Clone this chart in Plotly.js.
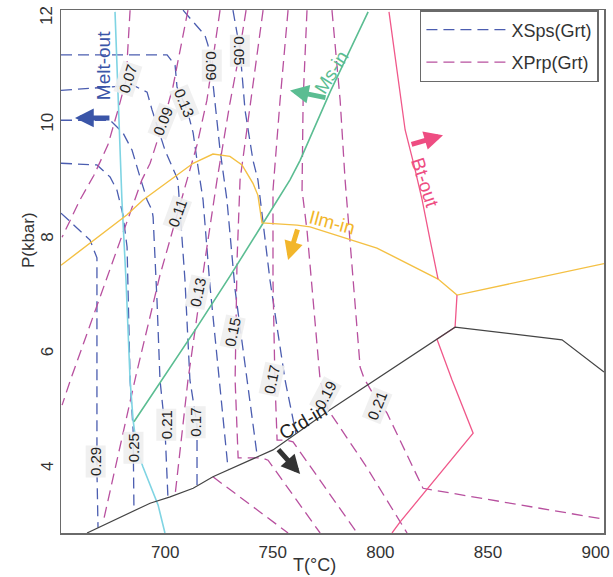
<!DOCTYPE html>
<html><head><meta charset="utf-8">
<script src="https://cdn.plot.ly/plotly-3.0.1.min.js"></script>
<style>html,body{margin:0;padding:0;background:#fff}#chart{width:613px;height:577px}</style>
</head><body><div id="chart"></div>
<script>
// ---- XSps(Grt) isopleths (T in °C, P in kbar) ----
const sps029_T = [651.6, 665.1, 668.3, 668.3, 668.8];
const sps029_P = [8.46, 7.99, 7.68, 3.98, 2.97];
const sps025_T = [651.6, 668.3, 674.4, 677.6, 680.4, 682.3, 683.7, 685.1, 685.5];
const sps025_P = [9.33, 9.30, 9.09, 8.86, 8.43, 7.87, 5.55, 4.68, 3.28];
const sps021_T = [651.6, 674.4, 680.4, 684.6, 688.3, 691.6, 693.9, 694.4, 696.2, 697.6, 699.9, 701.3];
const sps021_P = [10.08, 10.08, 9.86, 9.56, 9.09, 8.69, 8.51, 8.39, 6.94, 5.55, 4.71, 3.49];
const sps017_T = [651.6, 685.1, 691.6, 693.9, 699.9, 705.9, 709.2, 711.5, 714.8, 714.8];
const sps017_P = [10.60, 10.69, 10.57, 10.26, 9.56, 9.04, 7.29, 5.55, 4.76, 3.68];
const sps013_T = [651.6, 700.9, 704.6, 705.5, 710.2, 713.0, 714.8, 717.6, 720.8, 724.6, 729.2];
const sps013_P = [11.22, 11.22, 11.04, 10.66, 10.26, 9.86, 9.38, 8.69, 7.20, 5.72, 4.01];
const sps009_T = [708.3, 718.5, 719.9, 721.8, 725.5, 728.7, 732.5, 738.0, 742.7];
const sps009_P = [12.00, 11.56, 11.39, 10.87, 9.56, 8.69, 7.12, 5.55, 4.24];
const sps005_T = [731.5, 734.8, 737.1, 740.8, 743.1, 748.7, 755.7, 758.9, 760.8];
const sps005_P = [12.00, 11.30, 10.26, 9.38, 9.04, 7.29, 5.55, 4.97, 4.61];

// ---- XPrp(Grt) isopleths ----
const prp007_T = [683.7, 682.7, 681.8, 678.1, 673.4, 666.9, 660.4, 652.1];
const prp007_P = [12.00, 11.30, 10.78, 10.26, 9.65, 9.12, 8.69, 8.04];
const prp009_T = [710.6, 706.9, 703.6, 699.0, 693.0, 689.2, 672.5, 656.0, 652.1];
const prp009_P = [12.00, 11.30, 10.66, 10.03, 9.33, 9.04, 7.29, 5.55, 5.11];
const prp011_T = [725.5, 722.2, 719.4, 714.8, 710.2, 705.5, 697.6, 686.5, 679.0, 671.6];
const prp011_P = [12.00, 11.13, 10.43, 9.65, 9.04, 8.46, 7.38, 5.64, 4.41, 3.14];
const prp013_T = [737.6, 733.9, 730.1, 726.4, 724.1, 718.5, 710.6, 704.6, null, 722.2, 744.1, 757.1];
const prp013_P = [12.00, 11.13, 10.38, 9.56, 9.04, 7.64, 5.55, 3.54, null, 3.86, 3.25, 2.88];
const prp015_T = [745.5, 739.4, 734.8, 733.4, 732.5, 733.9, 745.0, 747.8, 772.0];
const prp015_P = [12.00, 10.34, 9.04, 7.64, 5.55, 4.19, 4.19, 4.15, 2.88];
const prp017_T = [757.1, 753.4, 750.1, 750.1, 751.0, 752.0, 756.6, 759.4, 789.2];
const prp017_P = [12.00, 10.43, 8.86, 7.29, 5.55, 4.50, 4.50, 4.47, 2.88];
const prp019_T = [765.9, 764.1, 763.6, 765.9, 772.0, 775.7, 792.9, 812.4];
const prp019_P = [12.00, 10.43, 8.86, 8.16, 5.55, 5.03, 4.07, 2.88];
const prp021_T = [777.5, 781.3, 783.6, 785.9, 790.6, 792.4, 796.1, 803.1, 819.8, 903.9];
const prp021_P = [12.00, 10.43, 9.04, 7.99, 5.77, 5.58, 5.34, 4.97, 3.66, 3.12];

// ---- Phase boundaries ----
const meltOut_T = [676.7, 678.1, 679.9, 681.8, 683.7, 685.1, 686.9, 689.7, 693.0, 696.7, 699.9];
const meltOut_P = [11.97, 10.43, 8.69, 7.29, 5.55, 4.85, 4.33, 4.03, 3.72, 3.37, 2.88];
const msIn_T = [794.3, 776.6, 762.7, 758.0, 744.1, 730.1, 713.9, 698.5, 685.5];
const msIn_P = [11.97, 10.57, 9.38, 9.04, 8.20, 7.36, 6.42, 5.55, 4.82];
const ilmIn_T = [651.6, 679.9, 682.3, 689.7, 702.3, 713.0, 722.2, 730.1, 735.7, 740.8, 743.1, 745.0, 761.3, 767.3, 798.4, 823.1, 826.8, 835.6, 903.9];
const ilmIn_P = [7.55, 8.37, 8.43, 8.69, 9.04, 9.33, 9.49, 9.45, 9.30, 8.98, 8.77, 8.29, 8.25, 8.22, 7.85, 7.38, 7.31, 7.03, 7.58];
const btOut_T = [804.0, 809.1, 811.5, 815.6, 819.4, 823.1, 826.8, null, 835.6, 834.7, 826.3, 833.3, 843.1, 809.1, 805.4];
const btOut_P = [11.97, 10.60, 9.91, 9.30, 8.69, 7.99, 7.31, null, 7.03, 6.47, 6.26, 5.55, 4.62, 3.07, 2.88];
const crdIn_T = [663.7, 693.0, 702.3, 713.0, 722.2, 744.1, 750.1, 776.6, 804.5, 809.1, 826.3, 834.7, 884.4, 903.9];
const crdIn_P = [2.88, 3.40, 3.51, 3.66, 3.86, 4.24, 4.33, 5.03, 5.72, 5.84, 6.26, 6.47, 6.25, 5.69];

// ---- Tick labels ----
const xTicks = [700, 750, 800, 850, 900];
const yTicks = [4, 6, 8, 10];
const yTopTick = '12';

// ---- Isopleth labels ----
const spsLabelText = ['0.05', '0.09', '0.13', '0.29', '0.25', '0.21', '0.17'];
const spsLabelT = [734.8, 721.8, 709.2, 667.9, 685.1, 700.4, 714.3];
const spsLabelP = [11.30, 11.04, 10.38, 4.12, 4.36, 4.76, 4.82];
const spsLabelAngle = [90, 90, 68, -90, -90, -90, -90];
const prpLabelText = ['0.07', '0.09', '0.11', '0.13', '0.15', '0.17', '0.19', '0.21'];
const prpLabelT = [682.7, 699.0, 705.5, 715.3, 731.5, 749.7, 774.7, 798.4];
const prpLabelP = [10.81, 10.05, 8.46, 7.07, 6.39, 5.55, 5.29, 5.11];
const prpLabelAngle = [-72, -68, -70, -78, -78, -78, -62, -68];

const BLUE = '#4b5db0', PINK = '#b8509f';
const FONT = 'Liberation Sans, Arial, sans-serif';
const DASH = '11px,6px';

const traces = [];
const spsSets = [[sps029_T, sps029_P], [sps025_T, sps025_P], [sps021_T, sps021_P], [sps017_T, sps017_P], [sps013_T, sps013_P], [sps009_T, sps009_P], [sps005_T, sps005_P]];
spsSets.forEach((s, i) => traces.push({
  x: s[0], y: s[1], type: 'scatter', mode: 'lines', name: 'XSps(Grt)', legendgroup: 'sps',
  showlegend: i === 0, line: {color: BLUE, width: 1.3, dash: DASH}, hoverinfo: 'skip'
}));
const prpSets = [[prp007_T, prp007_P], [prp009_T, prp009_P], [prp011_T, prp011_P], [prp013_T, prp013_P], [prp015_T, prp015_P], [prp017_T, prp017_P], [prp019_T, prp019_P], [prp021_T, prp021_P]];
prpSets.forEach((s, i) => traces.push({
  x: s[0], y: s[1], type: 'scatter', mode: 'lines', name: 'XPrp(Grt)', legendgroup: 'prp',
  showlegend: i === 0, line: {color: PINK, width: 1.3, dash: DASH}, hoverinfo: 'skip'
}));
const solid = (x, y, c, w) => ({x, y, type: 'scatter', mode: 'lines', showlegend: false, line: {color: c, width: w}, hoverinfo: 'skip'});
traces.push(solid(meltOut_T, meltOut_P, '#7fd4e3', 1.6));
traces.push(solid(msIn_T, msIn_P, '#5bbd92', 1.6));
traces.push(solid(ilmIn_T, ilmIn_P, '#f4c043', 1.4));
traces.push(solid(btOut_T, btOut_P, '#f0588a', 1.3));
traces.push(solid(crdIn_T, crdIn_P, '#444444', 1.2));

const annotations = [];
const lab = (t, x, y, a) => ({x, y, text: t, textangle: a, showarrow: false,
  font: {family: FONT, size: 15, color: '#222'}, bgcolor: 'rgba(238,238,238,0.9)', borderpad: 1});
spsLabelText.forEach((t, i) => annotations.push(lab(t, spsLabelT[i], spsLabelP[i], spsLabelAngle[i])));
prpLabelText.forEach((t, i) => annotations.push(lab(t, prpLabelT[i], prpLabelP[i], prpLabelAngle[i])));

const txt = (t, x, y, a, c) => ({x, y, text: t, textangle: a, showarrow: false, font: {family: FONT, size: 19, color: c}});
annotations.push(txt('Melt-out', 671.1, 11.04, -90, '#3a55a8'));
annotations.push(txt('Ms-in', 777.1, 10.92, -58, '#5bbd92'));
annotations.push(txt('Ilm-in', 777.5, 8.30, 15, '#f2b62b'));
annotations.push(txt('Bt-out', 820.8, 9.00, 72, '#ee4d82'));
annotations.push(txt('Crd-in', 764.1, 4.83, -30, '#222'));

const arr = (x, y, ax, ay, c) => ({x, y, ax, ay, axref: 'x', ayref: 'y', xref: 'x', yref: 'y', text: '',
  showarrow: true, arrowhead: 2, arrowsize: 0.75, arrowwidth: 5, arrowcolor: c, standoff: 0, startstandoff: 0});
annotations.push(arr(658.1, 10.12, 674.8, 10.12, '#3a55a8'));
annotations.push(arr(758.0, 10.60, 775.2, 10.47, '#5bbd92'));
annotations.push(arr(757.1, 7.64, 761.7, 8.20, '#f2b62b'));
annotations.push(arr(829.1, 9.82, 813.8, 9.65, '#ee4d82'));
annotations.push(arr(762.7, 3.91, 752.0, 4.36, '#333333'));

annotations.push({xref: 'paper', yref: 'paper', x: 0.466, y: -0.061, xanchor: 'center', yanchor: 'middle', text: 'T(°C)', showarrow: false,
  font: {family: FONT, size: 18, color: '#333'}});
annotations.push({xref: 'paper', yref: 'paper', x: -0.0608, y: 0.56, xanchor: 'center', yanchor: 'middle', text: 'P(kbar)', textangle: -90, showarrow: false,
  font: {family: FONT, size: 17, color: '#333'}});
annotations.push({xref: 'paper', yref: 'paper', x: -0.0276, y: 1, yshift: -6, xanchor: 'center', yanchor: 'middle', text: yTopTick, textangle: -90, showarrow: false,
  font: {family: FONT, size: 17, color: '#333'}});

const layout = {
  width: 613, height: 577,
  margin: {l: 61, r: 9, t: 10, b: 44},
  paper_bgcolor: '#fff', plot_bgcolor: '#fff',
  font: {family: FONT, size: 16, color: '#333'},
  xaxis: {range: [651.6, 903.9], tickvals: xTicks, ticktext: xTicks.map(String), showgrid: false, zeroline: false,
    showline: true, mirror: true, linecolor: '#6a6a6a', linewidth: 1.5, ticks: 'outside', ticklen: 3, tickcolor: 'rgba(0,0,0,0)',
    tickfont: {family: FONT, size: 17, color: '#333'}, ticklabeloverflow: 'allow'},
  yaxis: {range: [2.88, 12.003], tickvals: yTicks, ticktext: yTicks.map(String), tickangle: -90, showgrid: false, zeroline: false,
    showline: true, mirror: true, linecolor: '#6a6a6a', linewidth: 1.5, ticks: '', ticklen: 0,
    tickfont: {family: FONT, size: 17, color: '#333'}},
  showlegend: true,
  legend: {x: 0.661, y: 1, xanchor: 'left', yanchor: 'top', bgcolor: '#fff', bordercolor: '#6a6a6a', borderwidth: 1.5,
    font: {family: FONT, size: 18, color: '#333'}, itemwidth: 80, tracegroupgap: 6},
  annotations
};
Plotly.newPlot('chart', traces, layout, {staticPlot: true, displayModeBar: false});
</script>
</body></html>
